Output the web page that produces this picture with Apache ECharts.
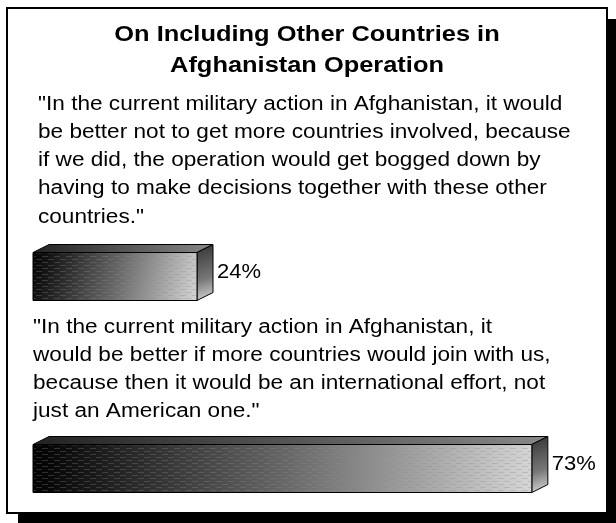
<!DOCTYPE html>
<html>
<head>
<meta charset="utf-8">
<script src="https://cdn.jsdelivr.net/npm/echarts@6/dist/echarts.min.js"></script>
<style>
  html, body { margin: 0; padding: 0; background: #fff; }
  #chart { width: 616px; height: 523px; }
</style>
</head>
<body>
<div id="chart"></div>
<script>
// Survey responses: share agreeing with each statement
const categories = ['Not more countries', 'More countries join'];
const values = [24, 73];
const titleLines = ['On Including Other Countries in', 'Afghanistan Operation'];
const quoteOne = [
  '"In the current military action in Afghanistan, it would',
  'be better not to get more countries involved, because',
  'if we did, the operation would get bogged down by',
  'having to make decisions together with these other',
  'countries."'
];
const quoteTwo = [
  '"In the current military action in Afghanistan, it',
  'would be better if more countries would join with us,',
  'because then it would be an international effort, not',
  'just an American one."'
];

const FONT = 'Liberation Sans, Arial, sans-serif';
const WIDE = 1.13; // horizontal stretch of the lettering

// small tile of faint dashes laid over the bar fronts
function dashTile() {
  const c = document.createElement('canvas');
  c.width = 12; c.height = 6;
  const g = c.getContext('2d');
  g.fillStyle = 'rgba(140,140,140,0.3)';
  g.fillRect(0, 1, 6, 1);
  g.fillRect(6, 4, 6, 1);
  return c;
}
const tile = dashTile();

const chart = echarts.init(document.getElementById('chart'), null, { renderer: 'canvas' });

function textLines(lines, x, y0, step, opts, sx) {
  return lines.map((t, i) => ({
    type: 'text',
    x: x,
    y: y0 + i * step,
    scaleX: sx || WIDE,
    z: 10,
    style: Object.assign({
      text: t,
      fill: '#000',
      font: '20px ' + FONT,
      verticalAlign: 'middle',
      align: 'left'
    }, opts || {})
  }));
}

const graphics = [
  // drop shadow behind the frame
  { type: 'rect', shape: { x: 18, y: 19, width: 598, height: 504 }, style: { fill: '#000' }, z: 0 },
  // framed panel
  { type: 'rect', shape: { x: 7, y: 8, width: 600, height: 505 }, style: { fill: '#fff', stroke: '#000', lineWidth: 2 }, z: 1 }
]
  .concat(textLines(titleLines, 307, 35, 31, { font: 'bold 22px ' + FONT, align: 'center' }, 1.155))
  .concat(textLines(quoteOne, 38, 104, 28.3))
  .concat(textLines(quoteTwo, 33, 327, 28.2));

function renderBar(params, api) {
  const idx = api.value(0);
  const val = api.value(1);
  const p0 = api.coord([0, idx]);
  const p1 = api.coord([val, idx]);
  const h = 48, dx = 16, dy = 8;
  const x0 = p0[0], x1 = p1[0];
  const top = p0[1] - h / 2, bot = p0[1] + h / 2;
  const outline = { stroke: '#000', lineWidth: 1 };
  return {
    type: 'group',
    children: [
      {
        type: 'polygon',
        shape: { points: [[x0, top], [x0 + dx, top - dy], [x1 + dx, top - dy], [x1, top]] },
        style: Object.assign({
          fill: new echarts.graphic.LinearGradient(0, 0, 1, 0, [
            { offset: 0, color: '#222' }, { offset: 1, color: '#888' }
          ])
        }, outline)
      },
      {
        type: 'polygon',
        shape: { points: [[x1, top], [x1 + dx, top - dy], [x1 + dx, bot - dy], [x1, bot]] },
        style: Object.assign({
          fill: new echarts.graphic.LinearGradient(0, 0, 1, 1, [
            { offset: 0, color: '#333' }, { offset: 0.6, color: '#777' }, { offset: 1, color: '#ddd' }
          ])
        }, outline)
      },
      {
        type: 'rect',
        shape: { x: x0, y: top, width: x1 - x0, height: h },
        style: Object.assign({
          fill: new echarts.graphic.LinearGradient(0, 0, 1, 1, [
            { offset: 0, color: '#000' }, { offset: 0.5, color: '#666' }, { offset: 1, color: '#d6d6d6' }
          ], false)
        }, outline)
      },
      {
        type: 'rect',
        shape: { x: x0 + 1, y: top + 1, width: x1 - x0 - 2, height: h - 2 },
        style: { fill: { image: tile, repeat: 'repeat' } }
      },
      {
        type: 'text',
        x: x1 + dx + 4,
        y: p0[1] - 4,
        scaleX: 1.1,
        style: { text: val + '%', font: '20px ' + FONT, fill: '#000', verticalAlign: 'middle' }
      }
    ]
  };
}

chart.setOption({
  animation: false,
  grid: { left: 33, top: 84.5, width: 164 / 24 * 80, height: 384 },
  xAxis: { type: 'value', min: 0, max: 80, show: false },
  yAxis: { type: 'value', min: -1, max: 1, inverse: true, show: false },
  graphic: graphics,
  series: [{
    type: 'custom',
    z: 5,
    renderItem: renderBar,
    encode: { x: 1, y: 0 },
    data: values.map((v, i) => [i, v])
  }]
});
</script>
</body>
</html>
